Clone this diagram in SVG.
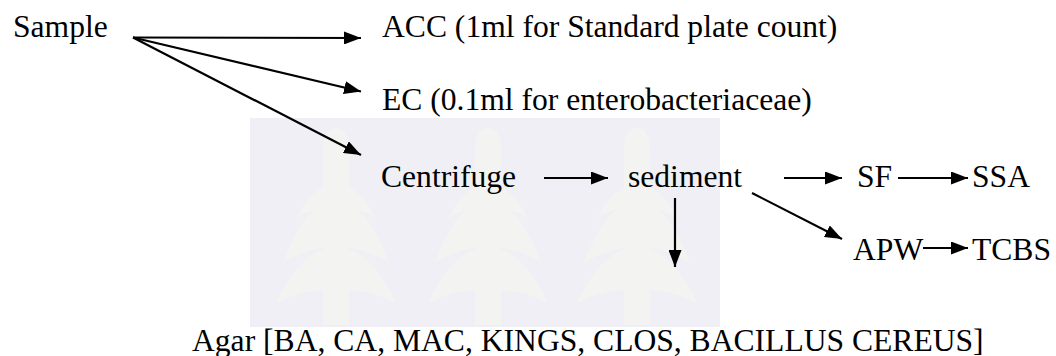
<svg xmlns="http://www.w3.org/2000/svg" width="1056" height="356" viewBox="0 0 1056 356">
<style>
text{font-family:"Liberation Serif","Times New Roman",serif;font-size:31.6px;fill:#000}
.c{stroke:#000;stroke-width:2.2;fill:none;marker-end:url(#ah)}
.wm{fill:#f3f3f1}
</style>
<defs>
<marker id="ah" markerUnits="userSpaceOnUse" markerWidth="18" markerHeight="13" refX="17" refY="6.5" orient="auto">
<path d="M0,0 L17,6.5 L0,13 Z" fill="#000"/>
</marker>
<g id="leaf">
<path class="wm" d="M-13,197 L-13,25 Q-13,0 0,0 Q13,0 13,25 L13,197 Z"/>
<path class="wm" d="M0,55 Q-24,58 -40,90 Q-20,78 0,80 Q20,78 40,90 Q24,58 0,55 Z"/>
<path class="wm" d="M0,72 Q-32,76 -53,135 Q-26,118 0,120 Q26,118 53,135 Q32,76 0,72 Z"/>
<path class="wm" d="M0,118 Q-36,122 -60,175 Q-30,160 0,162 Q30,160 60,175 Q36,122 0,118 Z"/>
</g>
</defs>
<g id="watermark">
<rect x="250" y="118" width="470" height="209" fill="#efeff5"/>
<use href="#leaf" x="336" y="128"/>
<use href="#leaf" x="488" y="128"/>
<use href="#leaf" x="637" y="128"/>
</g>
<g id="connectors">
<line class="c" x1="133" y1="37.5" x2="361" y2="38"/>
<line class="c" x1="133" y1="37.5" x2="361" y2="91.5"/>
<line class="c" x1="133" y1="37.5" x2="361" y2="155"/>
<line class="c" x1="544" y1="178" x2="608" y2="178"/>
<line class="c" x1="675" y1="198" x2="675" y2="267"/>
<line class="c" x1="784" y1="178" x2="842" y2="178"/>
<line class="c" x1="898" y1="178" x2="968" y2="178"/>
<line class="c" x1="752" y1="193" x2="842" y2="239"/>
<line class="c" x1="923" y1="248" x2="968" y2="248"/>
</g>
<g id="sample"><text x="13" y="37">Sample</text></g>
<g id="acc"><text x="382" y="37">ACC (1ml for Standard plate count)</text></g>
<g id="ec"><text x="382" y="110">EC (0.1ml for enterobacteriaceae)</text></g>
<g id="centrifuge"><text x="381" y="187">Centrifuge</text></g>
<g id="sediment"><text x="628" y="187">sediment</text></g>
<g id="sf"><text x="857" y="187">SF</text></g>
<g id="ssa"><text x="972" y="187">SSA</text></g>
<g id="apw"><text x="853" y="260">APW</text></g>
<g id="tcbs"><text x="972" y="260">TCBS</text></g>
<g id="agar"><text x="192" y="351">Agar [BA, CA, MAC, KINGS, CLOS, BACILLUS CEREUS]</text></g>
</svg>
